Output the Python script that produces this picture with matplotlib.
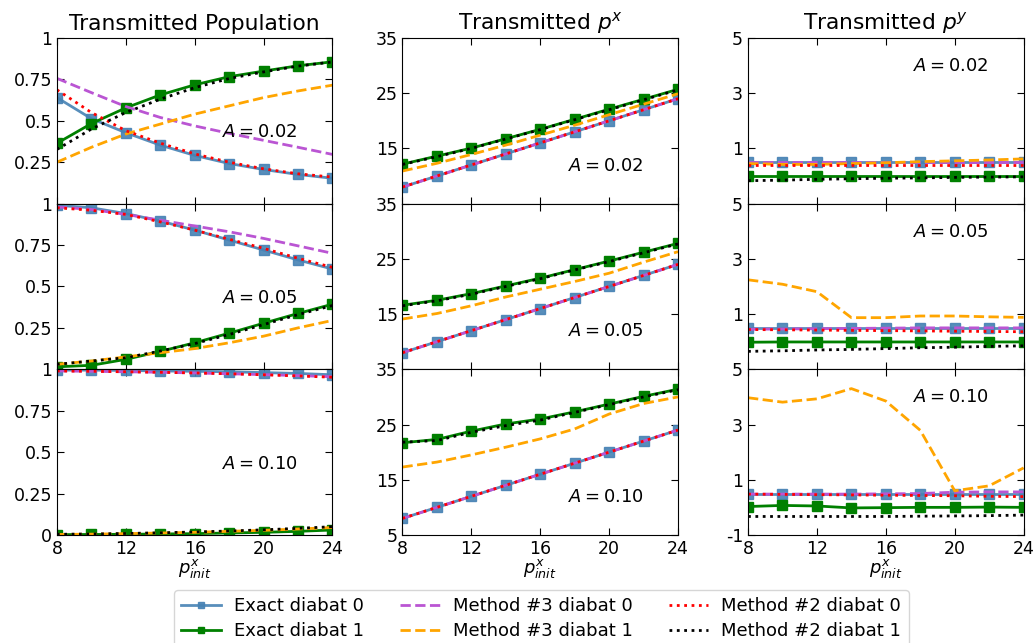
import numpy as np
import matplotlib.pyplot as plt

# initial momentum grid
p_init = [8, 10, 12, 14, 16, 18, 20, 22, 24]
amplitudes = ["0.02", "0.05", "0.10"]
col_titles = ["Transmitted Population", "Transmitted $p^x$", "Transmitted $p^y$"]

# --- transmitted population, rows A = 0.02, 0.05, 0.10
pop_exact0 = [
    [0.64, 0.513, 0.428, 0.353, 0.291, 0.242, 0.206, 0.176, 0.153],
    [0.99, 0.975, 0.94, 0.895, 0.84, 0.78, 0.72, 0.66, 0.605],
    [0.995, 0.995, 0.993, 0.99, 0.988, 0.985, 0.98, 0.975, 0.967],
]
pop_exact1 = [
    [0.364, 0.483, 0.578, 0.656, 0.717, 0.766, 0.80, 0.832, 0.856],
    [0.015, 0.024, 0.06, 0.108, 0.16, 0.218, 0.278, 0.337, 0.393],
    [0.002, 0.003, 0.004, 0.006, 0.008, 0.012, 0.016, 0.022, 0.03],
]
pop_m3_0 = [
    [0.756, 0.67, 0.586, 0.52, 0.469, 0.424, 0.382, 0.34, 0.297],
    [0.98, 0.965, 0.935, 0.90, 0.865, 0.83, 0.79, 0.745, 0.70],
    [0.99, 0.988, 0.985, 0.982, 0.978, 0.973, 0.968, 0.962, 0.955],
]
pop_m3_1 = [
    [0.25, 0.34, 0.42, 0.48, 0.54, 0.59, 0.64, 0.68, 0.715],
    [0.03, 0.05, 0.075, 0.10, 0.125, 0.16, 0.20, 0.25, 0.295],
    [0.003, 0.005, 0.008, 0.012, 0.016, 0.022, 0.028, 0.036, 0.045],
]
pop_m2_0 = [
    [0.687, 0.55, 0.44, 0.365, 0.30, 0.25, 0.21, 0.18, 0.16],
    [0.975, 0.96, 0.935, 0.89, 0.84, 0.785, 0.73, 0.67, 0.615],
    [0.99, 0.988, 0.985, 0.982, 0.978, 0.973, 0.967, 0.96, 0.952],
]
pop_m2_1 = [
    [0.327, 0.45, 0.55, 0.63, 0.70, 0.755, 0.795, 0.83, 0.855],
    [0.03, 0.05, 0.07, 0.11, 0.155, 0.21, 0.27, 0.33, 0.385],
    [0.004, 0.006, 0.009, 0.013, 0.018, 0.024, 0.031, 0.04, 0.05],
]

# --- transmitted p^x
px_exact0 = [p_init, p_init, p_init]
px_exact1 = [
    [12.15, 13.6, 15.05, 16.75, 18.45, 20.27, 22.1, 23.9, 25.7],
    [16.6, 17.5, 18.7, 20.1, 21.5, 23.05, 24.6, 26.2, 27.8],
    [21.7, 22.3, 23.8, 25.1, 26.0, 27.3, 28.7, 30.1, 31.4],
]
px_m3_0 = [p_init, p_init, p_init]
px_m3_1 = [
    [10.9, 12.3, 13.9, 15.6, 17.4, 19.2, 21.1, 23.0, 24.9],
    [14.1, 15.1, 16.5, 18.1, 19.5, 20.9, 22.4, 24.4, 26.3],
    [17.3, 18.2, 19.5, 20.9, 22.4, 24.2, 26.9, 28.8, 30.0],
]
px_m2_0 = [p_init, p_init, p_init]
px_m2_1 = [
    [12.1, 13.5, 15.0, 16.7, 18.4, 20.2, 22.0, 23.8, 25.6],
    [16.5, 17.4, 18.6, 20.0, 21.4, 23.0, 24.5, 26.1, 27.7],
    [21.8, 22.1, 23.6, 24.8, 25.8, 27.2, 28.6, 30.0, 31.3],
]

# --- transmitted p^y
py_exact0 = [
    [0.5, 0.5, 0.5, 0.5, 0.5, 0.5, 0.5, 0.5, 0.5],
    [0.5, 0.5, 0.5, 0.5, 0.5, 0.5, 0.5, 0.5, 0.5],
    [0.49, 0.49, 0.49, 0.49, 0.49, 0.49, 0.49, 0.49, 0.49],
]
py_exact1 = [
    [0.0, 0.0, 0.0, 0.0, 0.0, 0.0, 0.0, 0.0, 0.0],
    [-0.02, -0.01, -0.01, -0.01, -0.01, -0.01, -0.01, -0.01, -0.01],
    [0.03, 0.07, 0.05, -0.02, -0.01, 0.0, 0.0, 0.01, 0.0],
]
py_m3_0 = [
    [0.5, 0.5, 0.5, 0.5, 0.5, 0.5, 0.5, 0.5, 0.5],
    [0.45, 0.46, 0.47, 0.48, 0.49, 0.5, 0.5, 0.5, 0.5],
    [0.48, 0.48, 0.48, 0.48, 0.49, 0.5, 0.55, 0.56, 0.56],
]
py_m3_1 = [
    [0.45, 0.42, 0.42, 0.45, 0.48, 0.52, 0.55, 0.58, 0.62],
    [2.24, 2.08, 1.81, 0.87, 0.87, 0.93, 0.93, 0.9, 0.88],
    [3.97, 3.81, 3.93, 4.3, 3.85, 2.79, 0.6, 0.78, 1.43],
]
py_m2_0 = [
    [0.4, 0.4, 0.4, 0.4, 0.4, 0.4, 0.4, 0.4, 0.4],
    [0.44, 0.43, 0.42, 0.41, 0.4, 0.39, 0.38, 0.37, 0.36],
    [0.48, 0.47, 0.46, 0.45, 0.44, 0.43, 0.42, 0.4, 0.39],
]
py_m2_1 = [
    [-0.17, -0.15, -0.12, -0.1, -0.08, -0.07, -0.05, -0.04, -0.03],
    [-0.35, -0.33, -0.3, -0.28, -0.25, -0.22, -0.2, -0.17, -0.15],
    [-0.33, -0.33, -0.33, -0.33, -0.33, -0.32, -0.31, -0.3, -0.28],
]

columns = [
    (pop_exact0, pop_exact1, pop_m3_0, pop_m3_1, pop_m2_0, pop_m2_1),
    (px_exact0, px_exact1, px_m3_0, px_m3_1, px_m2_0, px_m2_1),
    (py_exact0, py_exact1, py_m3_0, py_m3_1, py_m2_0, py_m2_1),
]
col_ylims = [(0, 1), (5, 35), (-1, 5)]
col_ticks = [[0, 0.25, 0.5, 0.75, 1], [5, 15, 25, 35], [-1, 1, 3, 5]]
col_ticklabels = [["0", "0.25", "0.5", "0.75", "1"], ["5", "15", "25", "35"], ["-1", "1", "3", "5"]]
text_y = [0.43, 0.23, 0.83]

fig = plt.figure(figsize=(10.35, 6.43), dpi=100)
gs = fig.add_gridspec(3, 3, left=0.055, right=0.989, top=0.941, bottom=0.168,
                      hspace=0.0, wspace=0.254)

handles = None
for c in range(3):
    e0, e1, m30, m31, m20, m21 = columns[c]
    for r in range(3):
        ax = fig.add_subplot(gs[r, c])
        h1, = ax.plot(p_init, e0[r], '-s', color='steelblue', lw=2, ms=7, alpha=0.9,
                      label='Exact diabat 0')
        h2, = ax.plot(p_init, e1[r], '-s', color='green', lw=2, ms=7,
                      label='Exact diabat 1')
        h3, = ax.plot(p_init, m30[r], '--', color='mediumorchid', lw=2,
                      label='Method #3 diabat 0')
        h4, = ax.plot(p_init, m31[r], '--', color='orange', lw=2,
                      label='Method #3 diabat 1')
        h5, = ax.plot(p_init, m20[r], ':', color='red', lw=2,
                      label='Method #2 diabat 0')
        h6, = ax.plot(p_init, m21[r], ':', color='black', lw=2,
                      label='Method #2 diabat 1')
        handles = [h1, h2, h3, h4, h5, h6]

        ax.set_xlim(8, 24)
        ax.set_ylim(*col_ylims[c])
        ax.set_xticks([8, 12, 16, 20, 24])
        ticks = col_ticks[c]
        labels = col_ticklabels[c]
        if r < 2:
            ticks = ticks[1:]
            labels = labels[1:]
            ax.set_xticklabels([])
        else:
            ax.set_xlabel("$p^x_{init}$", fontsize=13, labelpad=0)
        ax.set_yticks(ticks)
        ax.set_yticklabels(labels)
        ax.tick_params(direction='in', top=True, right=True, labelsize=12.5, length=5)
        ax.text(0.6, text_y[c], "$A = " + amplitudes[r] + "$", transform=ax.transAxes,
                fontsize=13, va='center')
        if r == 0:
            ax.set_title(col_titles[c], fontsize=15.7)

fig.legend(handles=handles, loc='upper center', bbox_to_anchor=(0.523, 0.091), ncol=3,
           fontsize=13, numpoints=1, handlelength=2.2, handletextpad=0.72,
           columnspacing=2.0, labelspacing=0.4, markerscale=0.55,
           borderaxespad=0.3, frameon=True)

plt.savefig("out.png", dpi=100)
